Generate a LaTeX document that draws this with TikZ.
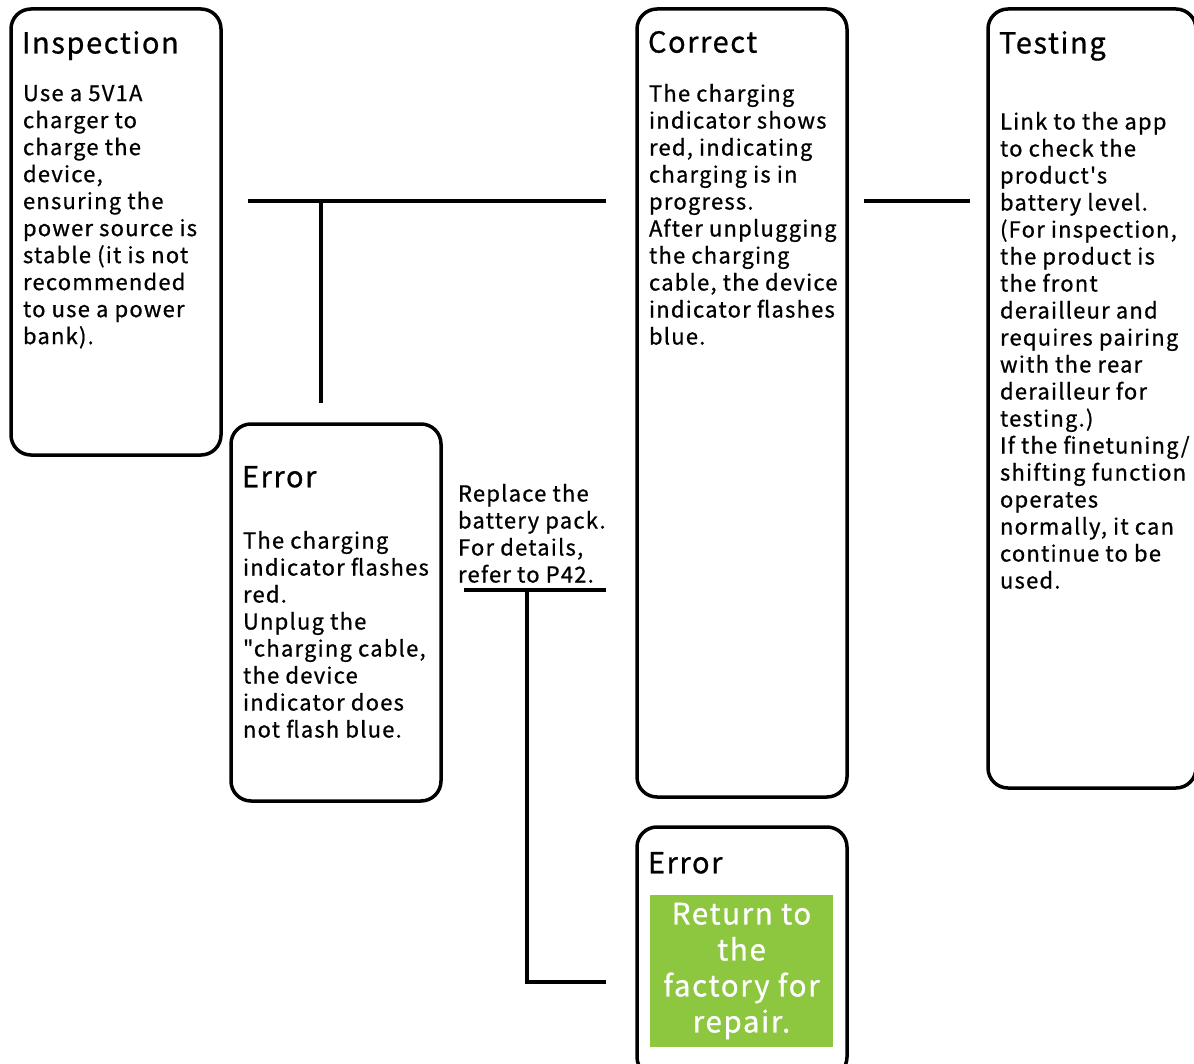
\documentclass[tikz,border=0pt]{standalone}
\usepackage{fontspec}
\setmainfont{Noto Sans CJK SC}[Ligatures=TeXOff, LetterSpace=5.5, FakeBold=0.8]
\usepackage{tikz}
\usetikzlibrary{positioning,calc}

\newcommand{\bodyfont}{\fontsize{22}{27}\selectfont}
\newcommand{\headfont}{\fontsize{29}{34}\selectfont}
\newcommand{\fixfont}{\fontsize{29.5}{36}\selectfont}
\definecolor{repairgreen}{RGB}{141,198,63}

\begin{document}
\begin{tikzpicture}[
            x=1pt, y=-1pt,
            outer sep=0pt,
            % style for the rounded step boxes
            card/.style={
                draw=black,
                line width=3.5pt,
                rounded corners=20pt,
                anchor=north west,
                inner sep=0pt
            },
            % style for box titles
            head/.style={
                anchor=north west,
                inner sep=0pt,
                font=\headfont
            },
            % style for box texts
            body/.style={
                anchor=north west,
                inner sep=0pt,
                align=left,
                font=\bodyfont
            },
            % style for the connecting lines
            link/.style={
                line width=4.5pt
            }
        ]
            \useasboundingbox (0,0) rectangle (1194,1064);

            % BOXES
            \node[card, minimum width=210pt, minimum height=446pt] (insp) at (11,9) {};
            \node[card, minimum width=210pt, minimum height=377pt] (err) at (231,424) {};
            \node[card, minimum width=210pt, minimum height=788pt] (corr) at (637,9) {};
            \node[card, minimum width=208pt, minimum height=779pt] (test) at (988,9) {};
            \node[card, minimum width=210pt, minimum height=250pt] (fail) at (637,827) {};

            % TITLES
            \node[head] (insphead) at (22,31) {Inspection};
            \node[head] (errhead) at (242,466) {Error};
            \node[head] (corrhead) at (648,31) {Correct};
            \node[head] (testhead) at (999,31) {Testing};
            \node[head] (failhead) at (648,852) {Error};

            % TEXTS
            \node[body] (insptext) at (23,85) {Use a 5V1A\\charger to\\charge the\\device,\\ensuring the\\power source is\\stable (it is not\\recommended\\to use a power\\bank).};
            \node[body] (errtext) at (243,531) {The charging\\indicator flashes\\red.\\Unplug the\\"charging cable,\\the device\\indicator does\\not flash blue.};
            \node[body] (corrtext) at (649,84) {The charging\\indicator shows\\red, indicating\\charging is in\\progress.\\After unplugging\\the charging\\cable, the device\\indicator flashes\\blue.};
            \node[body] (testtext) at (1000,112) {Link to the app\\to check the\\product's\\battery level.\\(For inspection,\\the product is\\the front\\derailleur and\\requires pairing\\with the rear\\derailleur for\\testing.)\\If the finetuning/\\shifting function\\operates\\normally, it can\\continue to be\\used.};
            \node[body] (repl) at (458,484) {Replace the\\battery pack.\\For details,\\refer to P42.};

            % GREEN BOX
            \node[fill=repairgreen, text=white, font=\fixfont, align=center,
                  minimum width=183pt, minimum height=152pt, anchor=north west,
                  inner sep=0pt] (fix) at (650,895) {Return to\\the\\factory for\\repair.};

            % LINE ENDS
            \coordinate (t1) at (248,201);
            \coordinate (t2) at (606,201);
            \coordinate (t3) at (321,403);
            \coordinate (r1) at (864,201);
            \coordinate (r2) at (970,201);
            \coordinate (b1) at (464,590);
            \coordinate (b2) at (606,590);
            \coordinate (b3) at (527,982);
            \coordinate (b4) at (606,982);

            % LINES
            \draw[link] (t1) -- (t2);
            \draw[link] (t3 |- t1) -- (t3);
            \draw[link] (r1) -- (r2);
            \draw[link] (b1) -- (b2);
            \draw[link] (b3 |- b1) -- (b3) -- (b4);

        \end{tikzpicture}
\end{document}
